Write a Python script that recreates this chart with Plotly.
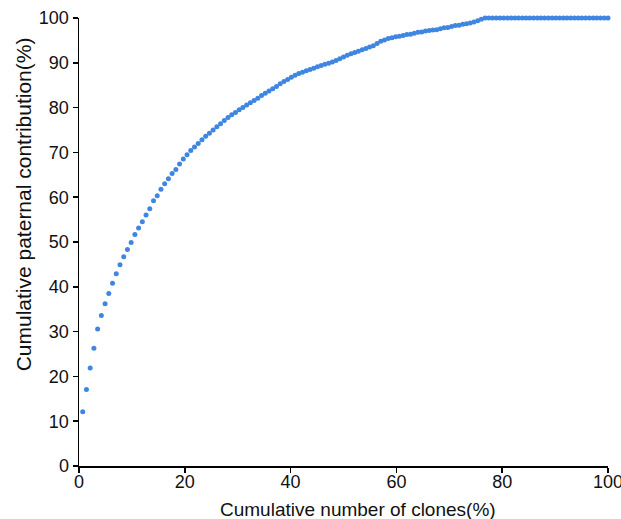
import plotly.graph_objects as go

n_clones = 142
contribution = [
    12.1, 17.1, 21.9, 26.3, 30.6, 33.6, 36.2, 38.5, 40.8, 42.9,
    44.9, 46.7, 48.3, 49.9, 51.7, 53.1, 54.5, 56.0, 57.4, 59.2,
    60.3, 61.8, 63.0, 64.1, 65.3, 66.2, 67.4, 68.5, 69.5, 70.4,
    71.2, 72.0, 72.8, 73.6, 74.3, 75.0, 75.7, 76.4, 77.1, 77.8,
    78.4, 78.9, 79.5, 80.0, 80.6, 81.1, 81.6, 82.1, 82.7, 83.2,
    83.7, 84.2, 84.7, 85.3, 85.8, 86.3, 86.8, 87.2, 87.6, 87.9,
    88.2, 88.5, 88.8, 89.1, 89.4, 89.7, 89.9, 90.2, 90.5, 90.9,
    91.3, 91.7, 92.0, 92.3, 92.6, 92.9, 93.2, 93.5, 93.8, 94.3,
    94.8, 95.1, 95.4, 95.6, 95.8, 95.9, 96.1, 96.3, 96.4, 96.6,
    96.8, 96.9, 97.1, 97.2, 97.3, 97.4, 97.6, 97.8, 97.9, 98.1,
    98.3, 98.4, 98.6, 98.7, 98.9, 99.1, 99.4, 99.7, 100.0, 100.0,
    100.0, 100.0, 100.0, 100.0, 100.0, 100.0, 100.0, 100.0, 100.0, 100.0,
    100.0, 100.0, 100.0, 100.0, 100.0, 100.0, 100.0, 100.0, 100.0, 100.0,
    100.0, 100.0, 100.0, 100.0, 100.0, 100.0, 100.0, 100.0, 100.0, 100.0,
    100.0, 100.0,
]
clone_pct = [100.0 * (i + 1) / n_clones for i in range(len(contribution))]

x_ticks = [0, 20, 40, 60, 80, 100]
y_ticks = [0, 10, 20, 30, 40, 50, 60, 70, 80, 90, 100]
x_title = "Cumulative number of clones(%)"
y_title = "Cumulative paternal contribution(%)"

fig = go.Figure(
    go.Scatter(
        x=clone_pct,
        y=contribution,
        mode="markers",
        marker=dict(color="#3f86e2", size=5, line=dict(width=0)),
        cliponaxis=False,
        hoverinfo="skip",
    )
)

fam = "Liberation Sans, Arial, sans-serif"
ink = "#111111"

fig.update_layout(
    width=621,
    height=519,
    margin=dict(l=79, r=13, t=18, b=53),
    plot_bgcolor="white",
    paper_bgcolor="white",
    showlegend=False,
    hovermode=False,
    font=dict(family=fam, size=18, color=ink),
    annotations=[
        dict(
            text=x_title, xref="paper", yref="paper", x=0.527, y=0,
            xanchor="center", yanchor="middle", yshift=-43, showarrow=False,
            font=dict(size=19, family=fam, color=ink),
        ),
        dict(
            text=y_title, xref="paper", yref="paper", x=0, y=0.584,
            xanchor="center", yanchor="middle", xshift=-56, textangle=-90,
            showarrow=False, font=dict(size=21, family=fam, color=ink),
        ),
    ],
)
fig.update_xaxes(
    range=[0, 100],
    tickvals=x_ticks,
    ticks="outside",
    ticklen=5,
    tickwidth=1.5,
    tickcolor="black",
    tickfont=dict(size=18),
    ticklabelstandoff=-6,
    ticklabeloverflow="allow",
    showline=True,
    linecolor="black",
    linewidth=1.5,
    showgrid=False,
    zeroline=False,
    automargin=False,
)
fig.update_yaxes(
    range=[0, 100],
    tickvals=y_ticks,
    ticks="outside",
    ticklen=5,
    tickwidth=1.5,
    tickcolor="black",
    tickfont=dict(size=18),
    ticklabeloverflow="allow",
    showline=True,
    linecolor="black",
    linewidth=1.5,
    showgrid=False,
    zeroline=False,
    automargin=False,
)

fig.write_html(
    "out.html",
    config={"displayModeBar": False, "staticPlot": True},
    post_script="document.body.style.margin='0';document.body.style.overflow='hidden';",
)
